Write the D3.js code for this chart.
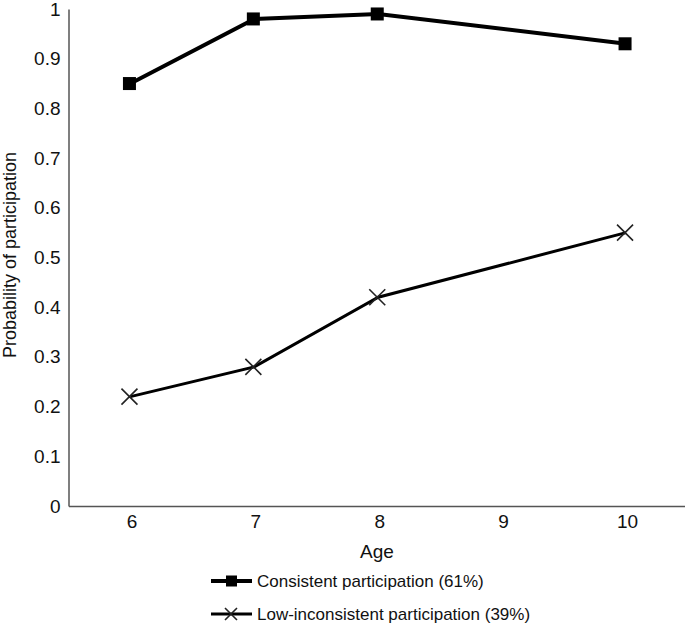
<!DOCTYPE html>
<html><head><meta charset="utf-8">
<script src="https://cdn.jsdelivr.net/npm/d3@7"></script>
<style>body{margin:0;background:#fff}svg{display:block}text{font-family:"Liberation Sans",Arial,sans-serif}</style>
</head><body>
<svg id="c" width="685" height="630"></svg>
<script>
const ages = [6, 7, 8, 10];
const consistent = [0.85, 0.98, 0.99, 0.93];
const lowInconsistent = [0.22, 0.28, 0.42, 0.55];
const xTicks = [6, 7, 8, 9, 10];
const yTicks = [0, 0.1, 0.2, 0.3, 0.4, 0.5, 0.6, 0.7, 0.8, 0.9, 1];
const seriesNames = ["Consistent participation (61%)", "Low-inconsistent participation (39%)"];

const svg = d3.select("#c");
const x = d3.scaleLinear().domain([5.5, 10.5]).range([68.5, 688]);
const y = d3.scaleLinear().domain([0, 1]).range([506, 9]);

// axes
const yAxis = svg.append("g").attr("transform", "translate(68.5,0)")
  .call(d3.axisLeft(y).tickValues(yTicks).tickSize(0).tickPadding(8).tickFormat(d => String(+d.toFixed(1))));
yAxis.select(".domain").attr("stroke", "#555").attr("stroke-width", 1.5);
yAxis.selectAll("text").attr("font-size", 19).attr("fill", "#111");

const xAxis = svg.append("g").attr("transform", "translate(0,506)")
  .call(d3.axisBottom(x).tickValues(xTicks).tickSize(0).tickPadding(9).tickFormat(d3.format("d")));
xAxis.select(".domain").attr("stroke", "#555").attr("stroke-width", 1.5);
xAxis.selectAll("text").attr("font-size", 19).attr("fill", "#111").attr("dx", 1);

svg.append("text").attr("x", 377).attr("y", 558).attr("text-anchor", "middle")
  .attr("font-size", 19).attr("fill", "#111").text("Age");
svg.append("text").attr("transform", "translate(15.5,255) rotate(-90)").attr("text-anchor", "middle")
  .attr("font-size", 18).attr("fill", "#111").text("Probability of participation");

const line = d3.line().x((d, i) => x(ages[i])).y(d => y(d));

svg.append("path").datum(consistent).attr("d", line).attr("fill", "none")
  .attr("stroke", "#000").attr("stroke-width", 4);
svg.append("path").datum(lowInconsistent).attr("d", line).attr("fill", "none")
  .attr("stroke", "#000").attr("stroke-width", 3);

const sq = 13;
svg.selectAll("rect.m").data(consistent).enter().append("rect").attr("class", "m")
  .attr("x", (d, i) => x(ages[i]) - sq / 2 - 1).attr("y", d => y(d) - sq / 2)
  .attr("width", sq).attr("height", sq).attr("fill", "#000");

const xs = 8;
const cross = (cx, cy) => `M${cx - xs},${cy - xs}L${cx + xs},${cy + xs}M${cx - xs},${cy + xs}L${cx + xs},${cy - xs}`;
svg.selectAll("path.x").data(lowInconsistent).enter().append("path").attr("class", "x")
  .attr("d", (d, i) => cross(x(ages[i]) - 1, y(d))).attr("stroke", "#222").attr("stroke-width", 1.6).attr("fill", "none");

// legend
const legY = [581, 614];
seriesNames.forEach((name, i) => {
  const g = svg.append("g");
  g.append("line").attr("x1", 211).attr("x2", 252).attr("y1", legY[i]).attr("y2", legY[i])
    .attr("stroke", "#000").attr("stroke-width", i === 0 ? 4 : 3);
  if (i === 0) {
    g.append("rect").attr("x", 226).attr("y", legY[i] - 5.5).attr("width", 11).attr("height", 11).attr("fill", "#000");
  } else {
    g.append("path").attr("d", `M${231 - 6},${legY[i] - 6}L${231 + 6},${legY[i] + 6}M${231 - 6},${legY[i] + 6}L${231 + 6},${legY[i] - 6}`)
      .attr("stroke", "#222").attr("stroke-width", 1.6);
  }
  g.append("text").attr("x", 257).attr("y", legY[i]).attr("dy", "0.35em")
    .attr("font-size", 17).attr("fill", "#111").text(name);
});
</script>
</body></html>
